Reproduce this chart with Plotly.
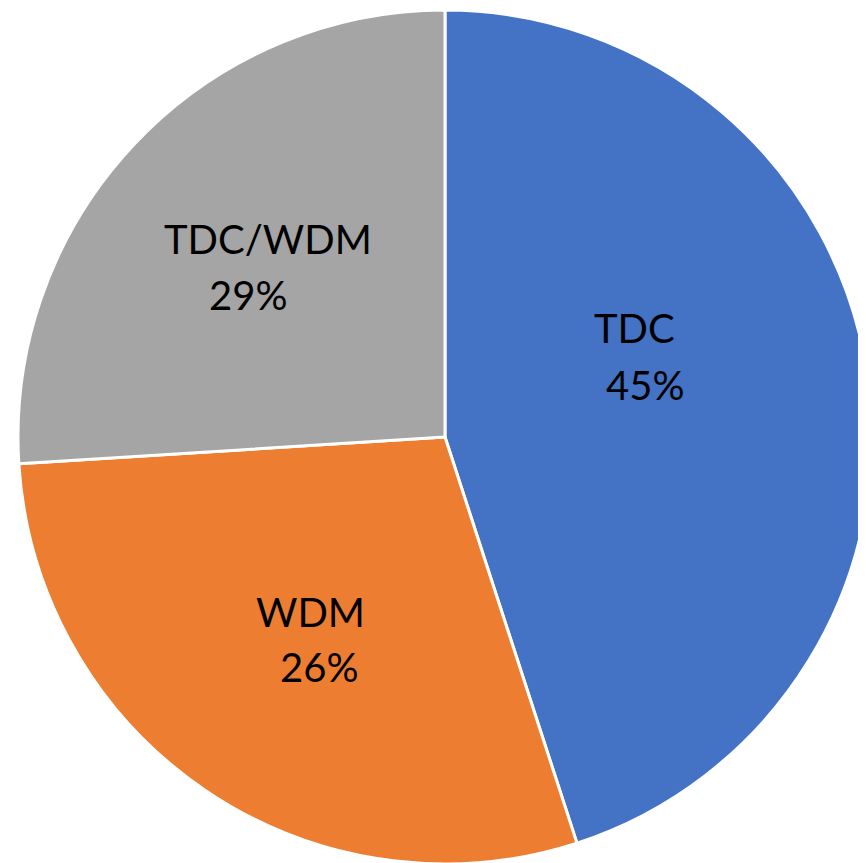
import plotly.graph_objects as go

# Data
categories = ["TDC", "WDM", "TDC/WDM"]
slice_values = [45, 29, 26]          # slice sizes as drawn
label_percents = ["45%", "26%", "29%"]  # percentages printed on the chart
colors = ["#4472C4", "#ED7D31", "#A5A5A5"]

OFF = 8  # page body margin
W, H = 866, 863
L, T = 10, 2
PW = PH = 854
R, B = W - L - PW, H - T - PH

fig = go.Figure(go.Pie(
    labels=categories,
    values=slice_values,
    sort=False,
    direction="clockwise",
    rotation=0,
    marker=dict(colors=colors, line=dict(color="white", width=3)),
    textinfo="none",
    hoverinfo="label+percent",
    showlegend=False,
))

# label placement (page-pixel positions of line centres)
name_pos = [(634, 328), (310, 612), (268, 239)]
pct_pos = [(645, 385), (319, 667), (248, 295)]

def px2paper(x, y):
    return (x - OFF - L) / PW, 1 - (y - OFF - T) / PH

font = dict(family="Lato, 'Open Sans', sans-serif", size=40, color="black")
annotations = []
for name, pct, npos, ppos in zip(categories, label_percents, name_pos, pct_pos):
    for txt, pos in ((name, npos), (pct, ppos)):
        x, y = px2paper(*pos)
        annotations.append(dict(text=txt, x=x, y=y, xref="paper", yref="paper",
                                xanchor="center", yanchor="middle",
                                showarrow=False, font=font))

fig.update_layout(
    width=W, height=H,
    margin=dict(l=L, r=R, t=T, b=B),
    paper_bgcolor="white",
    plot_bgcolor="white",
    annotations=annotations,
)

fig.write_html("out.html")
